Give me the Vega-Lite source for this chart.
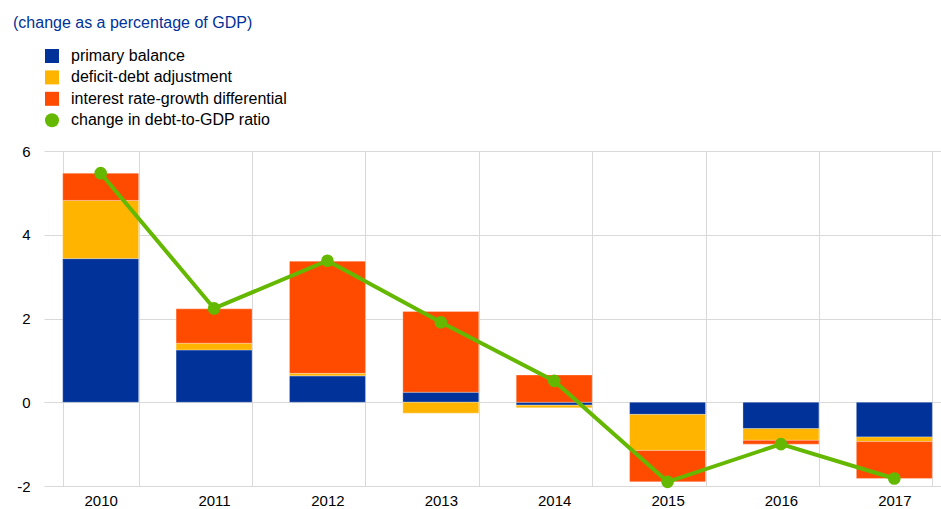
{
  "$schema": "https://vega.github.io/schema/vega-lite/v6.json",
  "autosize": "none",
  "padding": {"left": 44, "top": 151, "right": 0, "bottom": 23},
  "width": 897,
  "height": 335,
  "title": {
    "text": "(change as a percentage of GDP)",
    "anchor": "start",
    "frame": "group",
    "orient": "top",
    "baseline": "alphabetic",
    "offset": 4,
    "dx": -31,
    "fontSize": 16,
    "fontWeight": "normal",
    "font": "Liberation Sans",
    "color": "#003299"
  },
  "data": {
    "values": [
      {"year": "2010", "series": "primary balance", "value": 3.43},
      {"year": "2010", "series": "deficit-debt adjustment", "value": 1.39},
      {"year": "2010", "series": "interest rate-growth differential", "value": 0.65},
      {"year": "2010", "series": "change in debt-to-GDP ratio", "value": 5.47},
      {"year": "2011", "series": "primary balance", "value": 1.25},
      {"year": "2011", "series": "deficit-debt adjustment", "value": 0.16},
      {"year": "2011", "series": "interest rate-growth differential", "value": 0.82},
      {"year": "2011", "series": "change in debt-to-GDP ratio", "value": 2.24},
      {"year": "2012", "series": "primary balance", "value": 0.63},
      {"year": "2012", "series": "deficit-debt adjustment", "value": 0.06},
      {"year": "2012", "series": "interest rate-growth differential", "value": 2.68},
      {"year": "2012", "series": "change in debt-to-GDP ratio", "value": 3.38},
      {"year": "2013", "series": "primary balance", "value": 0.24},
      {"year": "2013", "series": "deficit-debt adjustment", "value": -0.26},
      {"year": "2013", "series": "interest rate-growth differential", "value": 1.93},
      {"year": "2013", "series": "change in debt-to-GDP ratio", "value": 1.91},
      {"year": "2014", "series": "primary balance", "value": -0.07},
      {"year": "2014", "series": "deficit-debt adjustment", "value": -0.06},
      {"year": "2014", "series": "interest rate-growth differential", "value": 0.65},
      {"year": "2014", "series": "change in debt-to-GDP ratio", "value": 0.51},
      {"year": "2015", "series": "primary balance", "value": -0.29},
      {"year": "2015", "series": "deficit-debt adjustment", "value": -0.86},
      {"year": "2015", "series": "interest rate-growth differential", "value": -0.75},
      {"year": "2015", "series": "change in debt-to-GDP ratio", "value": -1.90},
      {"year": "2016", "series": "primary balance", "value": -0.63},
      {"year": "2016", "series": "deficit-debt adjustment", "value": -0.28},
      {"year": "2016", "series": "interest rate-growth differential", "value": -0.09},
      {"year": "2016", "series": "change in debt-to-GDP ratio", "value": -1.00},
      {"year": "2017", "series": "primary balance", "value": -0.83},
      {"year": "2017", "series": "deficit-debt adjustment", "value": -0.11},
      {"year": "2017", "series": "interest rate-growth differential", "value": -0.88},
      {"year": "2017", "series": "change in debt-to-GDP ratio", "value": -1.82}
    ]
  },
  "encoding": {
    "x": {
      "field": "year",
      "type": "ordinal",
      "title": null,
      "scale": {"range": [0, 907], "paddingInner": 0.33, "paddingOuter": 0.165},
      "axis": {
        "labelAngle": 0,
        "labelFontSize": 15,
        "labelFont": "Liberation Sans",
        "labelColor": "#000000",
        "labelPadding": 7,
        "ticks": false,
        "domain": false,
        "grid": true,
        "tickBand": "extent",
        "gridColor": "#d9d9d9",
        "gridWidth": 1
      }
    },
    "y": {
      "field": "value",
      "type": "quantitative",
      "title": null,
      "stack": "zero",
      "scale": {"domain": [-2, 6], "nice": false},
      "axis": {
        "values": [-2, 0, 2, 4, 6],
        "labelExpr": "'' + datum.value",
        "labelFontSize": 15,
        "labelFont": "Liberation Sans",
        "labelColor": "#000000",
        "labelPadding": 14,
        "ticks": false,
        "domain": false,
        "grid": true,
        "gridColor": "#d9d9d9",
        "gridWidth": 1
      }
    },
    "color": {
      "field": "series",
      "type": "nominal",
      "sort": ["primary balance", "deficit-debt adjustment", "interest rate-growth differential", "change in debt-to-GDP ratio"],
      "scale": {
        "domain": ["primary balance", "deficit-debt adjustment", "interest rate-growth differential", "change in debt-to-GDP ratio"],
        "range": ["#003299", "#FFB400", "#FF4B00", "#65B800"]
      },
      "legend": {
        "title": null,
        "orient": "none",
        "legendX": 0,
        "legendY": -103,
        "padding": 0,
        "labelFontSize": 16,
        "labelFont": "Liberation Sans",
        "labelColor": "#000000",
        "labelLimit": 0,
        "labelOffset": 11,
        "rowPadding": 5.4,
        "symbolSize": 196,
        "symbolStrokeWidth": 0,
        "encode": {
          "symbols": {
            "update": {
              "shape": {"signal": "datum.label === 'change in debt-to-GDP ratio' ? 'circle' : 'square'"}
            }
          }
        }
      }
    }
  },
  "layer": [
    {
      "transform": [
        {"filter": "datum.series !== 'change in debt-to-GDP ratio'"},
        {"calculate": "indexof(['primary balance', 'deficit-debt adjustment', 'interest rate-growth differential'], datum.series)", "as": "stackRank"}
      ],
      "mark": {"type": "bar", "stroke": "white", "strokeWidth": 0.6, "strokeOpacity": 0.5},
      "encoding": {
        "order": {"field": "stackRank", "type": "quantitative", "sort": "ascending"}
      }
    },
    {
      "transform": [{"filter": "datum.series === 'change in debt-to-GDP ratio'"}],
      "mark": {"type": "line", "strokeWidth": 4, "point": {"filled": true, "size": 160}},
      "encoding": {
        "y": {"field": "value", "type": "quantitative", "stack": null}
      }
    }
  ],
  "config": {
    "view": {"stroke": null},
    "font": "Liberation Sans"
  }
}
